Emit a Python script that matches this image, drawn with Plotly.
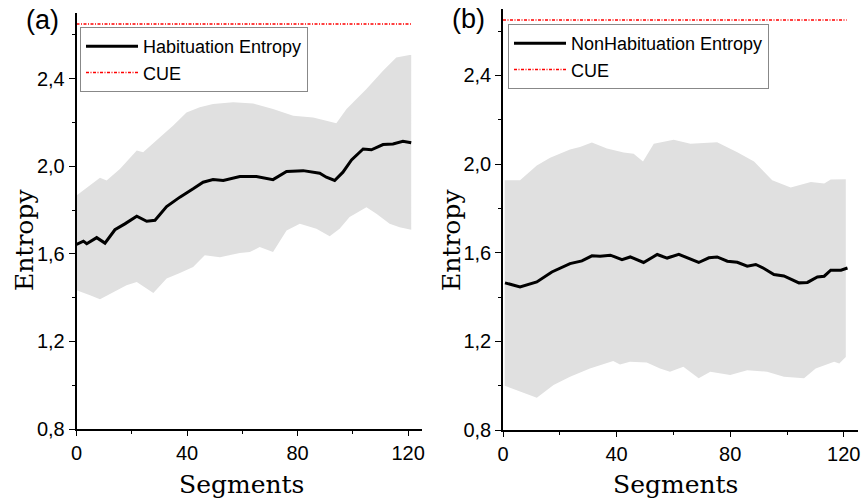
import plotly.graph_objects as go

# ---------------- data ----------------
# Panel (a): Habituation
hab_mean_x = [0, 2.5, 3.7, 7.3, 10.3, 13.9, 17.5, 21.8, 25.4, 28.4, 32.6, 37.4, 42.2, 45.8, 49.4,
              53.1, 59.1, 65.1, 71.1, 76.0, 82.0, 88.0, 90.4, 93.4, 96.4, 99.5, 103.7, 106.7,
              110.9, 114.5, 118.1, 121.1]
hab_mean_y = [1.643, 1.658, 1.646, 1.674, 1.649, 1.710, 1.737, 1.772, 1.749, 1.753, 1.816, 1.859,
              1.897, 1.927, 1.939, 1.935, 1.953, 1.953, 1.939, 1.976, 1.980, 1.968, 1.950, 1.935,
              1.973, 2.029, 2.079, 2.075, 2.099, 2.102, 2.114, 2.107]
hab_up_x = [0, 3.7, 8.5, 10.9, 15.7, 21.8, 24.1, 30.2, 35.0, 39.8, 44.6, 49.4, 56.7, 63.9, 71.1,
            78.4, 85.6, 90.4, 94.0, 97.7, 104.9, 110.9, 115.7, 120.5, 121.1]
hab_up_y = [1.867, 1.902, 1.947, 1.935, 1.988, 2.072, 2.064, 2.132, 2.186, 2.246, 2.269, 2.284,
            2.292, 2.287, 2.262, 2.231, 2.223, 2.208, 2.196, 2.262, 2.353, 2.436, 2.497, 2.508, 2.508]
hab_lo_x = [0, 4.9, 8.5, 13.3, 18.1, 21.8, 27.8, 32.6, 37.4, 42.2, 46.4, 51.9, 59.1, 62.7, 66.3,
            71.1, 76.0, 80.8, 86.8, 91.6, 95.2, 98.8, 104.9, 108.5, 113.3, 116.9, 121.1]
hab_lo_y = [1.434, 1.411, 1.393, 1.426, 1.456, 1.471, 1.421, 1.487, 1.512, 1.540, 1.593, 1.585,
            1.604, 1.608, 1.631, 1.608, 1.707, 1.737, 1.715, 1.680, 1.715, 1.768, 1.813, 1.783,
            1.737, 1.722, 1.710]

# Panel (b): NonHabituation
non_mean_x = [0.7, 6.0, 11.9, 17.2, 23.6, 27.8, 31.3, 34.2, 37.8, 41.9, 44.8, 49.5, 54.3, 57.8,
              61.9, 68.9, 72.5, 75.4, 79.0, 82.5, 86.0, 89.0, 91.9, 95.4, 98.9, 104.2, 107.2,
              110.7, 113.1, 115.4, 119.0, 121.3]
non_mean_y = [1.464, 1.446, 1.468, 1.513, 1.551, 1.563, 1.586, 1.584, 1.589, 1.569, 1.581, 1.556,
              1.592, 1.576, 1.593, 1.556, 1.577, 1.581, 1.562, 1.557, 1.539, 1.547, 1.529, 1.502,
              1.495, 1.464, 1.466, 1.491, 1.494, 1.521, 1.521, 1.531]
non_up_x = [0.6, 6.0, 11.9, 16.6, 23.6, 27.1, 31.3, 36.6, 42.5, 46.0, 49.3, 53.1, 60.1, 66.0, 75.4,
            82.5, 88.4, 94.8, 101.3, 108.4, 113.1, 115.4, 120.7]
non_up_y = [1.927, 1.927, 1.994, 2.029, 2.066, 2.077, 2.097, 2.070, 2.052, 2.047, 2.012, 2.092,
            2.110, 2.092, 2.099, 2.054, 2.012, 1.927, 1.894, 1.919, 1.912, 1.931, 1.932]
non_lo_x = [0.6, 6.0, 11.9, 17.8, 23.6, 30.6, 38.8, 41.2, 44.7, 50.6, 55.3, 58.8, 63.5, 68.9, 73.0,
            80.0, 86.0, 93.0, 98.9, 106.0, 110.1, 116.6, 118.4, 120.7]
non_lo_y = [1.000, 0.973, 0.946, 1.003, 1.040, 1.078, 1.111, 1.096, 1.108, 1.105, 1.078, 1.063,
            1.085, 1.033, 1.063, 1.048, 1.070, 1.063, 1.040, 1.033, 1.078, 1.108, 1.100, 1.130]

cue_x = [0, 121]
cue_y = [2.65, 2.65]

x_tickvals = [0, 40, 80, 120]
y_tickvals = [0.8, 1.2, 1.6, 2.0, 2.4]
y_ticktext = ["0,8", "1,2", "1,6", "2,0", "2,4"]

# ---------------- figure ----------------
W, H = 863, 504
BAND = "#e0e0e0"

fig = go.Figure()

def add_panel(xa, ya, legend, ux, uy, lx, ly, mx, my, name):
    fig.add_trace(go.Scatter(x=ux + lx[::-1], y=uy + ly[::-1], fill="toself", fillcolor=BAND,
                             line=dict(width=0), mode="lines", hoverinfo="skip", showlegend=False,
                             xaxis=xa, yaxis=ya))
    fig.add_trace(go.Scatter(x=mx, y=my, mode="lines", name=name, line=dict(color="black", width=3),
                             xaxis=xa, yaxis=ya, legend=legend))
    fig.add_trace(go.Scatter(x=cue_x, y=cue_y, mode="lines", name="CUE",
                             line=dict(color="red", width=1.5, dash="3px,1.5px,1px,1.5px"),
                             xaxis=xa, yaxis=ya, legend=legend))

add_panel("x", "y", "legend", hab_up_x, hab_up_y, hab_lo_x, hab_lo_y, hab_mean_x, hab_mean_y,
          "Habituation Entropy")
add_panel("x2", "y2", "legend2", non_up_x, non_up_y, non_lo_x, non_lo_y, non_mean_x, non_mean_y,
          "NonHabituation Entropy")

tickfont = dict(family="Liberation Sans, Arial", size=20, color="black")

def xaxis(domain, anchor):
    return dict(domain=domain, anchor=anchor, range=[0, 125], tickmode="array", tickvals=x_tickvals,
                ticks="outside", ticklen=5, tickwidth=1.2, tickcolor="black", automargin=False,
                showline=True, linecolor="black", linewidth=1.5, showgrid=False, zeroline=False,
                tickfont=tickfont,
                minor=dict(tickmode="array", tickvals=[20, 60, 100], ticks="outside", ticklen=3,
                           tickcolor="black", tickwidth=1))

def yaxis(domain, anchor):
    return dict(domain=domain, anchor=anchor, range=[0.8, 2.7], tickmode="array",
                tickvals=y_tickvals, ticktext=y_ticktext, automargin=False,
                ticks="outside", ticklen=6, tickwidth=1.2, tickcolor="black",
                showline=True, linecolor="black", linewidth=1.5, showgrid=False, zeroline=False,
                tickfont=tickfont,
                minor=dict(tickmode="array", tickvals=[1.0, 1.4, 1.8, 2.2, 2.6], ticks="outside",
                           ticklen=3, tickcolor="black", tickwidth=1))

def px(x):
    return x / W

def py(y):
    return 1 - y / H

legfont = dict(family="Liberation Sans, Arial", size=18, color="black")

fig.update_layout(
    width=W, height=H, margin=dict(l=0, r=0, t=0, b=0, pad=0, autoexpand=False),
    paper_bgcolor="white", plot_bgcolor="white",
    xaxis=xaxis([px(76.5), px(422)], "y"),
    yaxis=yaxis([py(429), py(13)], "x"),
    xaxis2=xaxis([px(503), px(858)], "y2"),
    yaxis2=yaxis([py(430), py(9)], "x2"),
    legend=dict(x=px(80), y=py(27), xanchor="left", yanchor="top", bgcolor="white",
                bordercolor="#888888", borderwidth=1, font=legfont, tracegroupgap=0,
                itemwidth=52),
    legend2=dict(x=px(508), y=py(24), xanchor="left", yanchor="top", bgcolor="white",
                 bordercolor="#888888", borderwidth=1, font=legfont, tracegroupgap=0,
                 itemwidth=52),
    showlegend=True,
)

titlefont = dict(family="DejaVu Serif", size=25, color="black")
labfont = dict(family="Liberation Sans, Arial", size=27, color="black")
annots = [
    dict(text="(a)", x=px(42), y=py(20), font=labfont),
    dict(text="(b)", x=px(468), y=py(19), font=labfont),
    dict(text="Entropy", x=px(24), y=py(240), font=titlefont, textangle=-90),
    dict(text="Entropy", x=px(451), y=py(240), font=titlefont, textangle=-90),
    dict(text="Segments", x=px(241), y=py(484), font=titlefont),
    dict(text="Segments", x=px(675), y=py(484), font=titlefont),
]
for a in annots:
    fig.add_annotation(xref="paper", yref="paper", xanchor="center", yanchor="middle",
                       showarrow=False, **a)

fig.write_html("out.html")
